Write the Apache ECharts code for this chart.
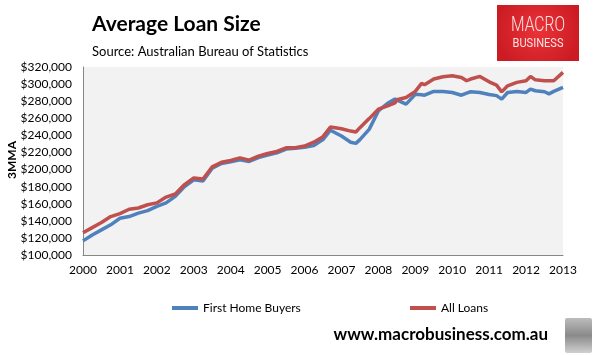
<!DOCTYPE html>
<html>
<head>
<meta charset="utf-8">
<script src="https://cdn.jsdelivr.net/npm/echarts@6/dist/echarts.min.js"></script>
<style>
html,body{margin:0;padding:0;background:#fff;}
#c{width:595px;height:355px;}
</style>
</head>
<body>
<div id="c"></div>
<script>
// Time points (decimal years)
var times = [2000.00,2000.25,2000.50,2000.75,2001.00,2001.25,2001.50,2001.75,2002.00,2002.25,2002.50,2002.75,
  2003.00,2003.25,2003.50,2003.75,2004.00,2004.25,2004.50,2004.75,2005.00,2005.25,2005.50,2005.75,
  2006.00,2006.25,2006.50,2006.70,2007.00,2007.25,2007.39,2007.50,2007.75,2008.00,2008.25,2008.45,2008.50,2008.75,
  2009.00,2009.17,2009.25,2009.50,2009.75,2010.00,2010.25,2010.39,2010.50,2010.75,2011.00,2011.20,2011.34,2011.50,2011.75,
  2012.00,2012.12,2012.25,2012.50,2012.62,2012.75,2013.00];
var firstHomeBuyers = [116500,123500,129400,135300,143000,145000,149000,152000,157000,161000,168600,180000,
  188000,186500,201500,207000,209000,211500,209500,214000,217000,219500,224000,225000,
  226000,228000,235000,246000,239200,232000,230600,235000,247000,268600,277600,282400,280400,276500,
  288000,287500,287000,291400,291400,290200,287000,289500,291000,290200,287900,286500,282400,290200,291400,
  290200,294100,292200,291000,288600,291400,296100];
var allLoans = [126000,132000,138000,145000,148500,153500,155000,158800,161000,167800,171400,182400,
  190200,189000,203200,208600,210600,213700,211000,215700,218800,221200,225500,225500,
  227500,232000,238500,249800,247800,245000,243900,249000,259600,270600,274500,278000,281600,284300,
  291400,300800,299200,306000,308600,309800,307800,303900,305900,309000,302700,298800,290900,298000,302000,
  303900,309000,305000,303900,303900,303900,313700];
var seriesNames = ['First Home Buyers', 'All Loans'];
var yAxisTitle = '3MMA';
var yearTicks = {min: 2000, max: 2013};
var valueTicks = {min: 100000, max: 320000, step: 20000};

function pairs(ts, vs){ return ts.map(function(t,i){ return [t, vs[i]]; }); }

var chart = echarts.init(document.getElementById('c'), null, {renderer:'canvas'});
var font = 'Lato, "Open Sans", sans-serif';
chart.setOption({
  animation: false,
  backgroundColor: '#ffffff',
  title: [
    {text: 'Average Loan Size', left: 87, top: 9, textStyle: {fontFamily: font, fontWeight: 'bold', fontSize: 21, color: '#000'}},
    {text: 'Source: Australian Bureau of Statistics', left: 87, top: 40, textStyle: {fontFamily: font, fontWeight: 'normal', fontSize: 13, color: '#000'}}
  ],
  grid: {left: 83, top: 67, right: 32, bottom: 100, show: true, backgroundColor: '#f2f2f2', borderWidth: 0,
    containLabel: false, outerBoundsMode: 'none'},
  legend: [
    {data: [seriesNames[0]], left: 172, top: 302, padding: 0, icon: 'rect', itemWidth: 26, itemHeight: 4, itemGap: 4,
      textStyle: {fontFamily: font, fontSize: 12, color: '#000'}},
    {data: [seriesNames[1]], left: 410, top: 302, padding: 0, icon: 'rect', itemWidth: 26, itemHeight: 4, itemGap: 4,
      textStyle: {fontFamily: font, fontSize: 12, color: '#000'}}
  ],
  xAxis: {
    type: 'value', min: yearTicks.min, max: yearTicks.max, interval: 1,
    axisLine: {show: true, lineStyle: {color: '#868686', width: 1}},
    axisTick: {show: false}, splitLine: {show: false},
    axisLabel: {fontFamily: font, fontSize: 12, color: '#000', margin: 9, formatter: function(v){ return String(v); }}
  },
  yAxis: {
    type: 'value', min: valueTicks.min, max: valueTicks.max, interval: valueTicks.step,
    axisLine: {show: true, lineStyle: {color: '#868686', width: 1}},
    axisTick: {show: false}, splitLine: {show: false},
    axisLabel: {fontFamily: font, fontSize: 12, color: '#000', margin: 11,
      formatter: function(v){ return '$' + v.toLocaleString('en-US'); }}
  },
  series: [
    {name: seriesNames[0], type: 'line', data: pairs(times, firstHomeBuyers), showSymbol: false, symbol: 'none',
      lineStyle: {color: '#4f81bd', width: 3.5}, itemStyle: {color: '#4f81bd'}},
    {name: seriesNames[1], type: 'line', data: pairs(times, allLoans), showSymbol: false, symbol: 'none',
      lineStyle: {color: '#c0504d', width: 3.5}, itemStyle: {color: '#c0504d'}}
  ],
  graphic: [
    {type: 'text', x: 12, y: 160, rotation: Math.PI / 2,
      style: {text: yAxisTitle, fontFamily: font, fontWeight: 'bold', fontSize: 12, fill: '#000', align: 'center', verticalAlign: 'middle'}},
    {type: 'rect', shape: {x: 497, y: 5, width: 82, height: 56},
      style: {fill: new echarts.graphic.RadialGradient(0.5, 0.45, 0.75, [{offset: 0, color: '#ea3339'}, {offset: 1, color: '#cc1c23'}])}},
    {type: 'text', x: 538, y: 26, scaleX: 0.78,
      style: {text: 'MACRO', fontFamily: 'Roboto, sans-serif', fontWeight: 300, fontSize: 20, fill: '#fde3e3', align: 'center', verticalAlign: 'middle'}},
    {type: 'text', x: 538, y: 44, scaleX: 0.85,
      style: {text: 'BUSINESS', fontFamily: 'Roboto, sans-serif', fontWeight: 400, fontSize: 13, fill: '#fde3e3', align: 'center', verticalAlign: 'middle'}},
    {type: 'text', x: 548, y: 335,
      style: {text: 'www.macrobusiness.com.au', fontFamily: font, fontWeight: 'bold', fontSize: 17, fill: '#000', align: 'right', verticalAlign: 'middle'}},
    {type: 'rect', shape: {x: 565, y: 318, width: 27, height: 35, r: 2},
      style: {fill: new echarts.graphic.LinearGradient(0, 0, 0, 1, [{offset: 0, color: '#bcbcbc'}, {offset: 0.5, color: '#8a8a8a'}, {offset: 1, color: '#d0d0d0'}])}}
  ]
});
</script>
</body>
</html>
